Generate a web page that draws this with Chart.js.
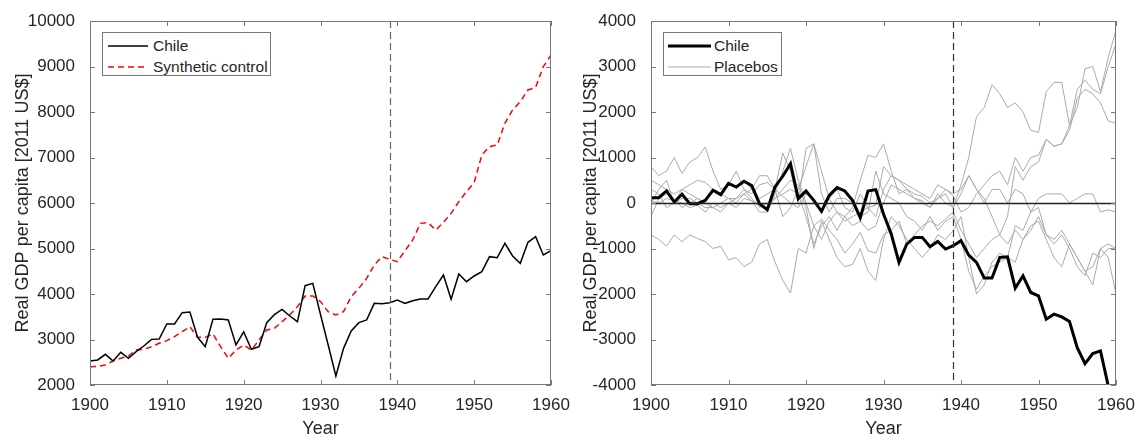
<!DOCTYPE html>
<html>
<head>
<meta charset="utf-8">
<script src="https://cdn.jsdelivr.net/npm/chart.js@4/dist/chart.umd.min.js"></script>
<style>
  body { margin: 0; width: 1137px; height: 434px; overflow: hidden; background: #fff; font-family: "Liberation Sans", Arial, sans-serif; }
  canvas { position: absolute; top: 0; }
  .legend { position: absolute; border: 1px solid #777; background: #fff; box-sizing: border-box; height: 44px; top: 32px; }
  .row { position: absolute; left: 0; height: 20px; font-size: 15.5px; color: #262626; }
  .row svg { position: absolute; top: 0; }
  .label { position: absolute; top: 1px; white-space: nowrap; }
</style>
</head>
<body>
<canvas id="left" width="600" height="440" style="left:0"></canvas>
<canvas id="right" width="569" height="440" style="left:568px"></canvas>

<div class="legend" style="left:102px;width:169px">
  <div class="row" style="top:3px">
    <svg width="48" height="20" style="left:0"><line x1="5" y1="10" x2="45" y2="10" stroke="#000" stroke-width="1.5"/></svg>
    <span class="label" style="left:50px">Chile</span>
  </div>
  <div class="row" style="top:24px">
    <svg width="48" height="20" style="left:0"><line x1="5" y1="10" x2="45" y2="10" stroke="#f00" stroke-width="1.5" stroke-dasharray="6 4"/></svg>
    <span class="label" style="left:50px">Synthetic control</span>
  </div>
</div>
<div class="legend" style="left:663px;width:119px">
  <div class="row" style="top:3px">
    <svg width="48" height="20" style="left:0"><line x1="4" y1="10" x2="47" y2="10" stroke="#000" stroke-width="3"/></svg>
    <span class="label" style="left:50px">Chile</span>
  </div>
  <div class="row" style="top:24px">
    <svg width="48" height="20" style="left:0"><line x1="4" y1="10" x2="47" y2="10" stroke="#aaa" stroke-width="1"/></svg>
    <span class="label" style="left:50px">Placebos</span>
  </div>
</div>

<script>
const years = Array.from({ length: 61 }, (_, i) => 1900 + i);
const treatYear = 1939;

// left panel: GDP per capita levels
const chileGdp = [
  2527, 2550, 2674, 2527, 2718, 2586, 2733, 2857, 3003, 3011,
  3341, 3341, 3590, 3604, 3048, 2842, 3443, 3450, 3429, 2879,
  3165, 2784, 2842, 3370, 3546, 3663, 3516, 3392, 4183, 4234,
  3550, 2880, 2198, 2806, 3187, 3370, 3429, 3795, 3787, 3810,
  3868, 3795, 3853, 3890, 3890, 4161, 4418, 3883, 4440, 4271,
  4396, 4491, 4821, 4799, 5114, 4835, 4674, 5136, 5260, 4857, 4952
];
const synthGdp = [
  2403, 2410, 2440, 2527, 2586, 2637, 2769, 2784, 2842, 2916,
  2974, 3062, 3172, 3282, 3048, 3048, 3121, 2842, 2586, 2769,
  2879, 2769, 2989, 3209, 3245, 3392, 3538, 3722, 3956, 3956,
  3832, 3612, 3538, 3612, 3941, 4124, 4344, 4637, 4821, 4762,
  4711, 4952, 5187, 5553, 5568, 5407, 5575, 5773, 6029, 6249,
  6447, 7055, 7238, 7275, 7751, 8044, 8227, 8484, 8542, 8996, 9253
];

// right panel: gaps (actual minus synthetic)
const chileGap = [
  117, 117, 264, 22, 191, -15, -15, 59, 279, 183,
  433, 352, 477, 382, -15, -147, 352, 587, 866, 95,
  264, 59, -183, 169, 338, 264, 59, -323, 264, 294,
  -242, -683, -1306, -903, -756, -756, -961, -844, -1013, -939,
  -829, -1145, -1306, -1651, -1651, -1196, -1182, -1871, -1600, -1967,
  -2040, -2554, -2444, -2503, -2606, -3178, -3530, -3310, -3251, -4020, -4300
];
const placebo1 = [
  -700, -800, -950, -700, -850, -700, -780, -850, -1000, -950,
  -1250, -1200, -1400, -1300, -900, -800, -1300, -1700, -1980, -1000,
  -1100, -500, -350, -600, -800, -1100, -900, -650, -1050, -1100,
  -700, -600, -400, -900, -700, -500, -400, -500, -350, -200,
  -600, -900, -1200, -1000, -800, -700, -900, -600, -800, -500,
  -400, -800, -1200, -1400, -900, -1200, -1500, -1800, -1000, -900, -1000
];
const placebo2 = [
  800, 600, 700, 1000, 650, 900, 1000, 1230, 700, 300,
  400, 700, 300, 200, 400, 450, 300, 1100, 700, 0,
  1200, 1300, 700, 100, -200, -300, -100, 500, 1050, 1000,
  1300, 700, 200, 300, 100, 50, -100, 200, 0, -100,
  400, 1000, 1900, 2100, 2600, 2400, 2100, 2200, 2000, 1600,
  1550, 2450, 2650, 2650, 1700, 2100, 2950, 3000, 2450, 3200, 3800
];
const placebo3 = [
  500, 400, 300, 200, 300, 400, 500, 450, 300, 200,
  400, 350, 500, 300, 100, 200, 300, 150, 0, -100,
  200, 100, -200, 100, 300, -100, -200, 200, -100, -300,
  300, 600, 500, 300, 200, 150, 0, 100, 300, 150,
  -200, -100, 200, 400, 600, 700, 400, 1000, 700, 1000,
  1050, 1400, 1250, 1300, 1700, 2500, 2700, 2500, 2400, 3000, 3500
];
const placebo4 = [
  -300, 100, 200, 100, -100, 0, 100, 0, -100, -200,
  0, 100, 300, 100, -100, 0, 100, 200, 300, 200,
  -300, -900, -500, -300, -600, -300, -500, -400, -600, -500,
  0, 400, 300, 200, 100, 0, -100, 100, 200, -100,
  200, 600, 300, 100, -300, -700, -300, 800, 500, 800,
  900, 1400, 1250, 1300, 1600, 2300, 2500, 2400, 2200, 1800, 1750
];
const placebo5 = [
  50, 0, 100, 50, 0, -100, -50, -200, 0, -100,
  0, -100, 100, 50, -200, -200, 200, 700, 1200, 500,
  0, -500, -800, -400, -200, -400, -300, -200, -100, -50,
  800, 600, 500, 400, 300, 200, 100, 400, 300, 200,
  300, 600, 300, 0, 300, 300, 0, 300, 200, -200,
  100, 200, 200, 200, 0, 100, 200, 200, -200, -150, -200
];
const placebo6 = [
  0, 300, 500, 0, 300, 200, 100, 0, 300, 200,
  100, 0, 200, 300, 600, 600, 300, -300, -100, 300,
  800, 1300, 200, -200, 100, 100, 0, -300, -200, 700,
  200, 100, 0, -300, -400, -600, -300, -600, -400, -300,
  -800, -1500, -1900, -1600, -1400, -1300, -1200, -1300, -800, -600,
  -300, -700, -800, -600, -900, -1200, -1500, -1400, -1000, -1200, -2000
];
const placebo7 = [
  300, 200, -100, 0, 100, 100, 0, -100, -100, 0,
  100, 100, 200, 50, -50, -100, 100, 300, 500, 400,
  -100, -1000, -400, -800, -1200, -1400, -1350, -1000, -1500, -1700,
  -800, -300, -500, -800, -1000, -1200, -1000, -700, -800, -600,
  -300, -1200, -2000, -1800, -1300, -1100, -1200, -500, -600, -200,
  -100, -700, -900, -700, -1000, -1400, -1600, -1100, -1200, -1000, -1000
];
const placebos = [placebo1, placebo2, placebo3, placebo4, placebo5, placebo6, placebo7];

const textColor = '#262626';
const axisColor = '#777';

// MATLAB-like box, inward ticks, treatment line and optional zero line
const frame = {
  id: 'frame',
  afterDatasetsDraw(chart, args, opts) {
    const { ctx, chartArea: a, scales: { x, y } } = chart;
    ctx.save();
    ctx.beginPath();
    ctx.rect(a.left, a.top, a.width, a.height);
    ctx.clip();
    if (opts.zeroLine) {
      const py = Math.round(y.getPixelForValue(0)) + 0.5;
      ctx.strokeStyle = '#222';
      ctx.lineWidth = 1.5;
      ctx.beginPath(); ctx.moveTo(a.left, py); ctx.lineTo(a.right, py); ctx.stroke();
    }
    const px = Math.round(x.getPixelForValue(treatYear)) + 0.5;
    ctx.strokeStyle = opts.dashColor;
    ctx.lineWidth = 1.2;
    ctx.setLineDash([7, 4]);
    ctx.beginPath(); ctx.moveTo(px, a.top); ctx.lineTo(px, a.bottom); ctx.stroke();
    ctx.restore();

    ctx.save();
    ctx.strokeStyle = axisColor;
    ctx.lineWidth = 1;
    ctx.strokeRect(a.left + 0.5, a.top + 0.5, a.width - 1, a.height - 1);
    ctx.beginPath();
    x.ticks.forEach(t => {
      const p = Math.round(x.getPixelForValue(t.value)) + 0.5;
      ctx.moveTo(p, a.bottom); ctx.lineTo(p, a.bottom - 5);
      ctx.moveTo(p, a.top); ctx.lineTo(p, a.top + 5);
    });
    y.ticks.forEach(t => {
      const p = Math.round(y.getPixelForValue(t.value)) + 0.5;
      ctx.moveTo(a.left, p); ctx.lineTo(a.left + 5, p);
      ctx.moveTo(a.right, p); ctx.lineTo(a.right - 5, p);
    });
    ctx.stroke();
    ctx.restore();
  }
};

const makeScales = (yMin, yMax, yWidth) => ({
  x: {
    type: 'linear', min: 1900, max: 1960,
    grid: { display: false }, border: { display: false },
    ticks: { stepSize: 10, padding: 2, color: textColor, font: { size: 17 }, maxRotation: 0, callback: v => String(v) },
    title: { display: true, text: 'Year', color: textColor, font: { size: 18 }, padding: { top: 0, bottom: 0 } },
    afterFit: s => { s.height = 55; s.paddingLeft = 0; s.paddingRight = 0; }
  },
  y: {
    min: yMin, max: yMax,
    grid: { display: false }, border: { display: false },
    ticks: { stepSize: 1000, padding: 7, color: textColor, font: { size: 17 }, callback: v => String(v) },
    title: { display: true, text: 'Real GDP per capita [2011 US$]', color: textColor, font: { size: 18 }, padding: { top: 12, bottom: 0 } },
    afterFit: s => { s.width = yWidth; s.paddingTop = 0; s.paddingBottom = 0; }
  }
});

const common = (yMin, yMax, yWidth, padRight, dashColor, zeroLine) => ({
  responsive: false,
  animation: false,
  layout: { padding: { top: 21, right: padRight, left: 0, bottom: 0 } },
  elements: { point: { radius: 0 }, line: { tension: 0 } },
  plugins: { legend: { display: false }, tooltip: { enabled: false }, frame: { dashColor, zeroLine } },
  scales: makeScales(yMin, yMax, yWidth)
});

Chart.defaults.font.family = '"Liberation Sans", Arial, sans-serif';

new Chart(document.getElementById('left'), {
  type: 'line',
  data: {
    labels: years,
    datasets: [
      { label: 'Chile', data: chileGdp, borderColor: '#000', borderWidth: 1.5 },
      { label: 'Synthetic control', data: synthGdp, borderColor: '#f00', borderWidth: 1.5, borderDash: [6, 4] }
    ]
  },
  options: common(2000, 10000, 90, 49, '#666', false),
  plugins: [frame]
});

new Chart(document.getElementById('right'), {
  type: 'line',
  data: {
    labels: years,
    datasets: [
      { label: 'Chile', data: chileGap, borderColor: '#000', borderWidth: 3 },
      ...placebos.map((p, i) => ({ label: 'Placebo ' + (i + 1), data: p, borderColor: '#aaa', borderWidth: 1 }))
    ]
  },
  options: common(-4000, 4000, 83, 21, '#333', true),
  plugins: [frame]
});
</script>
</body>
</html>
